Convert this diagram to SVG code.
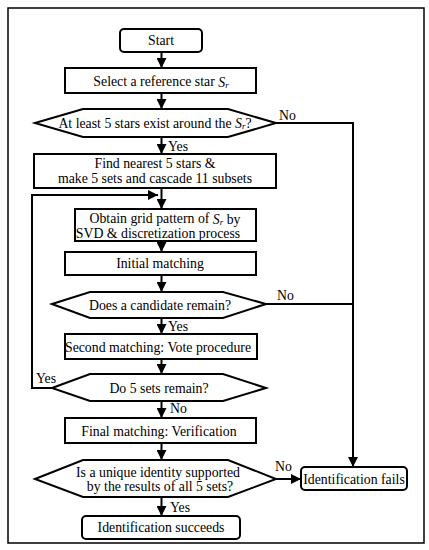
<svg xmlns="http://www.w3.org/2000/svg" width="429" height="550" viewBox="0 0 429 550" font-family="'Liberation Serif', serif">
<defs>
<marker id="ah" viewBox="0 0 10 10" refX="10" refY="5" markerWidth="10" markerHeight="10" markerUnits="userSpaceOnUse" orient="auto">
<path d="M0,0 L10,5 L0,10 Z" fill="#000"/>
</marker>
</defs>
<style>
.b{fill:#fff;stroke:#000;stroke-width:2}
.c{fill:none;stroke:#000;stroke-width:2}
text{font-family:'Liberation Serif',serif;font-size:13.8px;fill:#000;text-anchor:middle;dominant-baseline:central}
.l{text-anchor:start}
.i{font-style:italic}
</style>
<rect x="0" y="0" width="429" height="550" fill="#fff"/>
<rect x="8" y="8" width="416" height="535" fill="none" stroke="#000" stroke-width="1.5"/>
<g id="connectors">
<line class="c" x1="161.5" y1="52" x2="161.5" y2="68" marker-end="url(#ah)"/>
<line class="c" x1="161.5" y1="93" x2="161.5" y2="109" marker-end="url(#ah)"/>
<line class="c" x1="161.5" y1="137" x2="161.5" y2="154" marker-end="url(#ah)"/>
<polyline class="c" points="276,123 353,123 353,467" marker-end="url(#ah)"/>
<line class="c" x1="161.5" y1="188" x2="161.5" y2="209" marker-end="url(#ah)"/>
<polyline class="c" points="52,388 32,388 32,195 158,195" marker-end="url(#ah)"/>
<line class="c" x1="161.5" y1="241" x2="161.5" y2="252" marker-end="url(#ah)"/>
<line class="c" x1="161.5" y1="275" x2="161.5" y2="292" marker-end="url(#ah)"/>
<line class="c" x1="266" y1="304" x2="353" y2="304"/>
<line class="c" x1="161.5" y1="318" x2="161.5" y2="334" marker-end="url(#ah)"/>
<line class="c" x1="161.5" y1="359" x2="161.5" y2="374" marker-end="url(#ah)"/>
<line class="c" x1="161.5" y1="401" x2="161.5" y2="418" marker-end="url(#ah)"/>
<line class="c" x1="161.5" y1="443" x2="161.5" y2="460" marker-end="url(#ah)"/>
<line class="c" x1="276" y1="479" x2="301" y2="479" marker-end="url(#ah)"/>
<line class="c" x1="161.5" y1="497" x2="161.5" y2="516" marker-end="url(#ah)"/>
<text class="l" x="279" y="115">No</text>
<text class="l" x="168" y="146">Yes</text>
<text class="l" x="277" y="295">No</text>
<text class="l" x="168" y="326">Yes</text>
<text class="l" x="36" y="378">Yes</text>
<text class="l" x="170" y="408">No</text>
<text class="l" x="275" y="466">No</text>
<text class="l" x="170" y="507">Yes</text>
</g>
<g id="start">
<rect class="b" x="120" y="29" width="82" height="23" rx="4"/>
<text x="161" y="40.5">Start</text>
</g>
<g id="select">
<rect class="b" x="65" y="68" width="191" height="25"/>
<text x="161" y="81.5">Select a reference star <tspan class="i">S</tspan><tspan class="i" font-size="9" dy="3">r</tspan></text>
</g>
<g id="d1">
<polygon class="b" points="35,123 83,109 228,109 276,123 228,137 83,137"/>
<text x="155" y="123">At least 5 stars exist around the <tspan class="i">S</tspan><tspan class="i" font-size="9" dy="3">r</tspan><tspan dy="-3">?</tspan></text>
</g>
<g id="find">
<rect class="b" x="34" y="154" width="242" height="34"/>
<text x="155" y="163.5">Find nearest 5 stars &amp;</text>
<text x="155" y="178.5">make 5 sets and cascade 11 subsets</text>
</g>
<g id="obtain">
<rect class="b" x="75" y="209" width="181" height="32"/>
<text x="165" y="218.5">Obtain grid pattern of <tspan class="i">S</tspan><tspan class="i" font-size="9" dy="3">r</tspan><tspan dy="-3"> by</tspan></text>
<text x="158" y="233">SVD &amp; discretization process</text>
</g>
<g id="initial">
<rect class="b" x="65" y="252" width="191" height="23"/>
<text x="160" y="263.5">Initial matching</text>
</g>
<g id="d2">
<polygon class="b" points="52,304 90,292 223,292 266,304 223,318 90,318"/>
<text x="160" y="305">Does a candidate remain?</text>
</g>
<g id="second">
<rect class="b" x="65" y="334" width="192" height="25"/>
<text x="158" y="347">Second matching: Vote procedure</text>
</g>
<g id="d3">
<polygon class="b" points="52,388 90,374 223,374 266,388 223,401 90,401"/>
<text x="159" y="388">Do 5 sets remain?</text>
</g>
<g id="final">
<rect class="b" x="65" y="418" width="191" height="25"/>
<text x="159" y="431.5">Final matching: Verification</text>
</g>
<g id="d4">
<polygon class="b" points="35,479 83,460 228,460 276,479 228,497 83,497"/>
<text x="158" y="472">Is a unique identity supported</text>
<text x="160" y="486.5">by the results of all 5 sets?</text>
</g>
<g id="fails">
<rect class="b" x="301" y="467" width="106" height="23" rx="4"/>
<text x="354" y="479">Identification fails</text>
</g>
<g id="succeeds">
<rect class="b" x="82" y="516" width="158" height="23" rx="4"/>
<text x="161" y="527.5">Identification succeeds</text>
</g>
</svg>
